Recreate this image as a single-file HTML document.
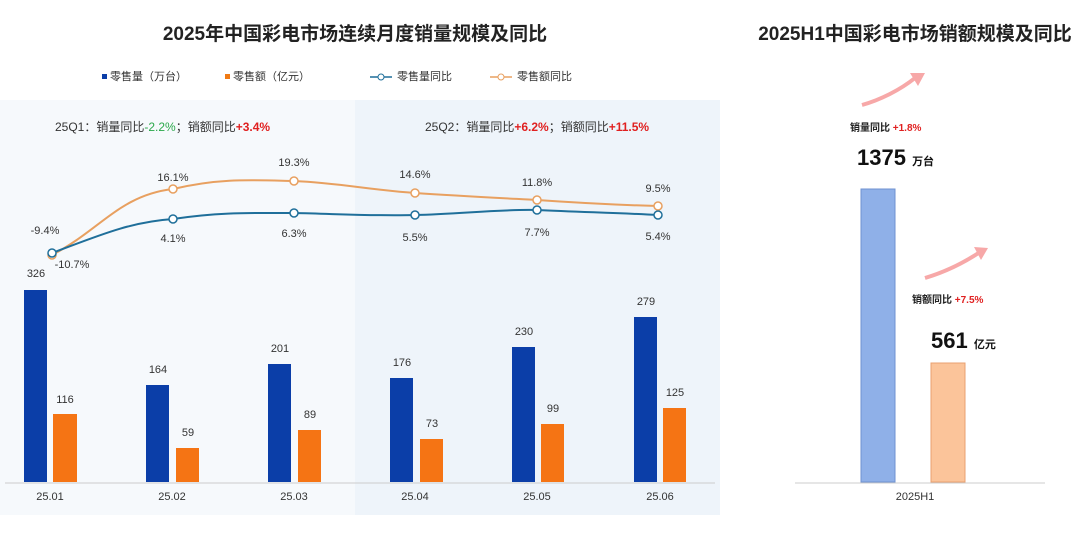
<!DOCTYPE html>
<html><head><meta charset="utf-8"><style>
body{margin:0;background:#fff;width:1080px;height:538px;overflow:hidden;font-family:"Liberation Sans","Noto Sans CJK SC",sans-serif}
</style></head><body>
<svg width="1080" height="538" xmlns="http://www.w3.org/2000/svg" style="font-family:'Liberation Sans','Noto Sans CJK SC',sans-serif">
<rect x="0" y="100" width="355" height="415" fill="#f6f9fc"/>
<rect x="355" y="100" width="365" height="415" fill="#eef4fa"/>
<text x="355" y="40" font-size="19" font-weight="bold" text-anchor="middle" fill="#222">2025年中国彩电市场连续月度销量规模及同比</text>
<text x="915" y="40" font-size="19" font-weight="bold" text-anchor="middle" fill="#222">2025H1中国彩电市场销额规模及同比</text>
<g font-size="11" fill="#333">
<rect x="102" y="74" width="5" height="5" fill="#0b3ea8"/><text x="110" y="80">零售量（万台）</text>
<rect x="225" y="74" width="5" height="5" fill="#f07a14"/><text x="233" y="80">零售额（亿元）</text>
<line x1="370" y1="77" x2="392" y2="77" stroke="#1f6f9a" stroke-width="1.5"/><circle cx="381" cy="77" r="3" fill="#fff" stroke="#1f6f9a"/><text x="397" y="80">零售量同比</text>
<line x1="490" y1="77" x2="512" y2="77" stroke="#e8a060" stroke-width="1.5"/><circle cx="501" cy="77" r="3" fill="#fff" stroke="#e8a060"/><text x="517" y="80">零售额同比</text>
</g>
<g font-size="12" fill="#333">
<text x="55" y="131">25Q1：销量同比<tspan fill="#2aa84a">-2.2%</tspan>；销额同比<tspan fill="#e02020" font-weight="bold">+3.4%</tspan></text>
<text x="425" y="131">25Q2：销量同比<tspan fill="#e02020" font-weight="bold">+6.2%</tspan>；销额同比<tspan fill="#e02020" font-weight="bold">+11.5%</tspan></text>
</g>
<path d="M52,255 C100,230 120,195 173,189 C220,178 250,180 294,181 C340,183 370,190 415,193 C460,196 500,198 537,200 C580,203 620,205 658,206" fill="none" stroke="#e8a060" stroke-width="2"/>
<path d="M52,253 C100,235 130,222 173,219 C220,212 250,213 294,213 C340,214 370,216 415,215 C460,214 500,209 537,210 C580,212 620,213 658,215" fill="none" stroke="#1f6f9a" stroke-width="2"/>
<g fill="#fff" stroke-width="1.5">
<g stroke="#e8a060"><circle cx="52" cy="255" r="4"/><circle cx="173" cy="189" r="4"/><circle cx="294" cy="181" r="4"/><circle cx="415" cy="193" r="4"/><circle cx="537" cy="200" r="4"/><circle cx="658" cy="206" r="4"/></g>
<g stroke="#1f6f9a"><circle cx="52" cy="253" r="4"/><circle cx="173" cy="219" r="4"/><circle cx="294" cy="213" r="4"/><circle cx="415" cy="215" r="4"/><circle cx="537" cy="210" r="4"/><circle cx="658" cy="215" r="4"/></g>
</g>
<g font-size="11" fill="#333" text-anchor="middle">
<text x="45" y="234">-9.4%</text><text x="72" y="268">-10.7%</text>
<text x="173" y="181">16.1%</text><text x="294" y="166">19.3%</text><text x="415" y="178">14.6%</text><text x="537" y="186">11.8%</text><text x="658" y="192">9.5%</text>
<text x="173" y="242">4.1%</text><text x="294" y="237">6.3%</text><text x="415" y="241">5.5%</text><text x="537" y="236">7.7%</text><text x="658" y="240">5.4%</text>
</g>
<g fill="#0b3ea8">
<rect x="24" y="290" width="23" height="192"/><rect x="146" y="385" width="23" height="97"/><rect x="268" y="364" width="23" height="118"/><rect x="390" y="378" width="23" height="104"/><rect x="512" y="347" width="23" height="135"/><rect x="634" y="317" width="23" height="165"/>
</g>
<g fill="#f57414">
<rect x="53" y="414" width="24" height="68"/><rect x="176" y="448" width="23" height="34"/><rect x="298" y="430" width="23" height="52"/><rect x="420" y="439" width="23" height="43"/><rect x="541" y="424" width="23" height="58"/><rect x="663" y="408" width="23" height="74"/>
</g>
<g font-size="11" fill="#333" text-anchor="middle">
<text x="36" y="277">326</text><text x="65" y="403">116</text>
<text x="158" y="373">164</text><text x="188" y="436">59</text>
<text x="280" y="352">201</text><text x="310" y="418">89</text>
<text x="402" y="366">176</text><text x="432" y="427">73</text>
<text x="524" y="335">230</text><text x="553" y="412">99</text>
<text x="646" y="305">279</text><text x="675" y="396">125</text>
</g>
<line x1="5" y1="483" x2="715" y2="483" stroke="#ccc"/>
<g font-size="11" fill="#333" text-anchor="middle">
<text x="50" y="500">25.01</text><text x="172" y="500">25.02</text><text x="294" y="500">25.03</text><text x="415" y="500">25.04</text><text x="537" y="500">25.05</text><text x="660" y="500">25.06</text>
</g>
<path d="M862,105 C880,100 900,90 915,78" fill="none" stroke="#f7a8a8" stroke-width="4"/><path d="M910,73 L925,73 L918,86 Z" fill="#f7a8a8"/>
<path d="M925,278 C945,272 965,262 980,252" fill="none" stroke="#f7a8a8" stroke-width="4"/><path d="M974,247 L988,248 L981,260 Z" fill="#f7a8a8"/>
<text x="850" y="131" font-size="10" font-weight="bold" fill="#222">销量同比 <tspan fill="#e02020">+1.8%</tspan></text>
<text x="857" y="165" font-size="22" font-weight="bold" fill="#111">1375 <tspan font-size="11">万台</tspan></text>
<text x="912" y="303" font-size="10" font-weight="bold" fill="#222">销额同比 <tspan fill="#e02020">+7.5%</tspan></text>
<text x="931" y="348" font-size="22" font-weight="bold" fill="#111">561 <tspan font-size="11">亿元</tspan></text>
<rect x="861" y="189" width="34" height="293" fill="#8fb0e8" stroke="#6f92d0"/>
<rect x="931" y="363" width="34" height="119" fill="#fbc49a" stroke="#e8a070"/>
<line x1="795" y1="483" x2="1045" y2="483" stroke="#ccc"/>
<text x="915" y="500" font-size="11" fill="#333" text-anchor="middle">2025H1</text>
</svg>
</body></html>
